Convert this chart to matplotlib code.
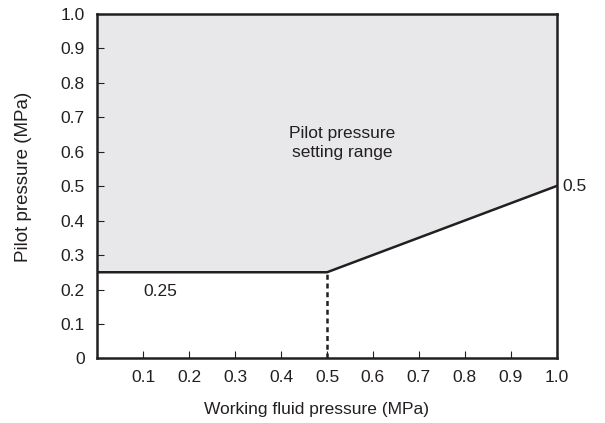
import matplotlib.pyplot as plt

plt.rcParams['font.family'] = ['Liberation Sans', 'DejaVu Sans']

# boundary of the pilot pressure setting range
work_p = [0.0, 0.5, 1.0]
pilot_p = [0.25, 0.25, 0.5]
x_ticks = [0.1, 0.2, 0.3, 0.4, 0.5, 0.6, 0.7, 0.8, 0.9, 1.0]
y_ticks = [0, 0.1, 0.2, 0.3, 0.4, 0.5, 0.6, 0.7, 0.8, 0.9, 1.0]

ink = '#231f20'
fs = 12.5

fig = plt.figure(figsize=(6.05, 4.23), dpi=100)
ax = fig.add_axes([0.161, 0.1525, 0.759, 0.8155])

ax.fill_between(work_p, pilot_p, 1.0, color='#e8e8ea', lw=0)
ax.plot(work_p, pilot_p, color=ink, lw=1.8, solid_joinstyle='miter')
ax.plot([0.5, 0.5], [0, 0.25], color=ink, lw=1.8, ls=(0, (2, 1.5)))

ax.set_xlim(0, 1.0)
ax.set_ylim(0, 1.0)
ax.set_xticks(x_ticks)
ax.set_xticklabels(['%.1f' % v for v in x_ticks])
ax.set_yticks(y_ticks)
ax.set_yticklabels(['0'] + ['%.1f' % v for v in y_ticks[1:]])
ax.tick_params(direction='in', length=5, width=0.8, colors=ink, labelsize=fs, pad=8)
ax.tick_params(axis='y', pad=9)
for s in ax.spines.values():
    s.set_linewidth(1.8)
    s.set_color(ink)

ax.set_xlabel('Working fluid pressure (MPa)', fontsize=fs, color=ink, va='center')
ax.set_ylabel('Pilot pressure (MPa)', fontsize=13.5, color=ink, va='center')
ax.xaxis.set_label_coords(0.478, -0.149)
ax.yaxis.set_label_coords(-0.162, 0.526)

ax.text(0.533, 0.625, 'Pilot pressure\nsetting range', ha='center', va='center',
        fontsize=fs, color=ink, linespacing=1.35)
ax.text(0.136, 0.195, '0.25', ha='center', va='center', fontsize=fs, color=ink)
ax.text(1.013, 0.5, '0.5', ha='left', va='center', fontsize=fs, color=ink, clip_on=False)

fig.savefig('out.png', dpi=100)
